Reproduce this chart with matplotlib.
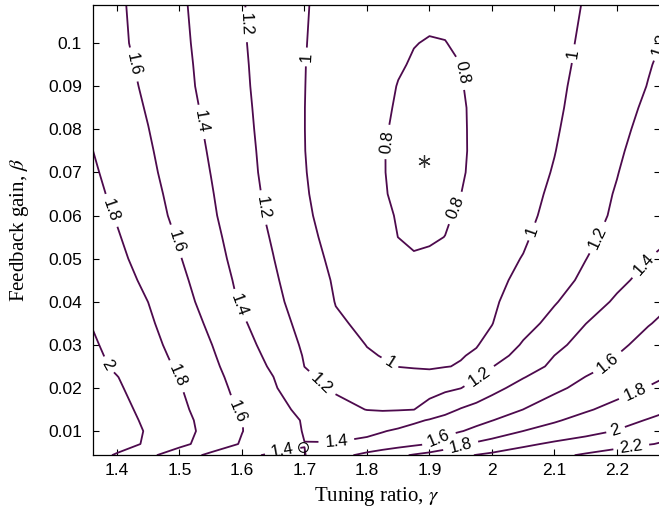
import matplotlib
matplotlib.use("Agg")
import matplotlib.pyplot as plt
import numpy as np

# Grid: tuning ratio (columns) and feedback gain (rows)
gamma = [1.35, 1.40, 1.45, 1.50, 1.55, 1.60, 1.65, 1.70, 1.75, 1.80, 1.825, 1.85,
         1.875, 1.90, 1.925, 1.95, 1.975, 2.00, 2.05, 2.10, 2.15, 2.20, 2.25, 2.30]
beta = [0.0044, 0.007, 0.01, 0.0125, 0.015, 0.02, 0.0225, 0.025, 0.0275, 0.03, 0.035,
        0.04, 0.045, 0.05, 0.055, 0.06, 0.065, 0.07, 0.075, 0.08, 0.085, 0.09, 0.095,
        0.10, 0.11]

# estimated response value at each (beta, gamma) node, one row per beta
response = [
    [2.116, 1.978, 1.840, 1.695, 1.560, 1.447, 1.370, 1.395, 1.530, 1.654, 1.709, 1.764, 1.818, 1.866, 1.914, 1.963, 2.007, 2.037, 2.098, 2.160, 2.222, 2.284, 2.346, 2.409],
    [2.209, 2.090, 1.970, 1.848, 1.715, 1.584, 1.492, 1.402, 1.410, 1.443, 1.483, 1.522, 1.562, 1.604, 1.687, 1.771, 1.829, 1.874, 1.963, 2.032, 2.085, 2.137, 2.190, 2.243],
    [2.209, 2.095, 1.982, 1.866, 1.741, 1.604, 1.493, 1.391, 1.341, 1.364, 1.391, 1.426, 1.468, 1.509, 1.550, 1.592, 1.642, 1.695, 1.801, 1.870, 1.940, 2.009, 2.080, 2.153],
    [2.184, 2.075, 1.967, 1.856, 1.734, 1.603, 1.482, 1.386, 1.345, 1.305, 1.283, 1.320, 1.367, 1.413, 1.459, 1.505, 1.550, 1.596, 1.688, 1.781, 1.861, 1.935, 2.011, 2.093],
    [2.164, 2.057, 1.950, 1.841, 1.710, 1.574, 1.459, 1.356, 1.267, 1.195, 1.188, 1.190, 1.198, 1.266, 1.342, 1.412, 1.459, 1.507, 1.601, 1.691, 1.780, 1.858, 1.934, 2.012],
    [2.126, 2.022, 1.918, 1.812, 1.674, 1.543, 1.423, 1.250, 1.172, 1.133, 1.113, 1.094, 1.103, 1.134, 1.165, 1.196, 1.270, 1.346, 1.466, 1.564, 1.651, 1.730, 1.808, 1.876],
    [2.108, 2.005, 1.902, 1.796, 1.657, 1.527, 1.402, 1.224, 1.158, 1.110, 1.086, 1.061, 1.037, 1.035, 1.086, 1.137, 1.189, 1.254, 1.392, 1.499, 1.604, 1.682, 1.760, 1.830],
    [2.067, 1.974, 1.880, 1.777, 1.638, 1.508, 1.373, 1.199, 1.127, 1.055, 1.020, 0.997, 0.992, 0.987, 0.994, 1.010, 1.102, 1.194, 1.317, 1.436, 1.544, 1.635, 1.710, 1.786],
    [2.054, 1.961, 1.867, 1.759, 1.622, 1.490, 1.348, 1.188, 1.102, 1.016, 0.994, 0.986, 0.977, 0.974, 0.983, 0.992, 1.017, 1.114, 1.272, 1.401, 1.502, 1.602, 1.672, 1.744],
    [2.040, 1.947, 1.853, 1.740, 1.606, 1.470, 1.321, 1.174, 1.079, 0.996, 0.984, 0.971, 0.958, 0.958, 0.970, 0.982, 0.993, 1.040, 1.221, 1.355, 1.466, 1.563, 1.660, 1.720],
    [2.013, 1.920, 1.826, 1.706, 1.568, 1.424, 1.284, 1.142, 1.019, 0.973, 0.956, 0.940, 0.924, 0.926, 0.943, 0.961, 0.978, 0.996, 1.125, 1.264, 1.398, 1.494, 1.590, 1.671],
    [1.985, 1.892, 1.799, 1.671, 1.529, 1.377, 1.247, 1.116, 0.995, 0.953, 0.932, 0.911, 0.889, 0.894, 0.916, 0.938, 0.959, 0.980, 1.065, 1.185, 1.311, 1.427, 1.520, 1.613],
    [1.958, 1.866, 1.765, 1.641, 1.500, 1.356, 1.226, 1.089, 0.982, 0.931, 0.905, 0.879, 0.853, 0.862, 0.888, 0.913, 0.939, 0.965, 1.031, 1.130, 1.237, 1.358, 1.457, 1.545],
    [1.930, 1.839, 1.731, 1.610, 1.470, 1.335, 1.204, 1.061, 0.966, 0.906, 0.876, 0.847, 0.806, 0.815, 0.859, 0.888, 0.917, 0.946, 1.006, 1.102, 1.197, 1.298, 1.399, 1.485],
    [1.905, 1.814, 1.703, 1.583, 1.449, 1.315, 1.183, 1.042, 0.948, 0.874, 0.837, 0.799, 0.789, 0.789, 0.801, 0.837, 0.873, 0.909, 0.981, 1.070, 1.165, 1.251, 1.375, 1.405],
    [1.879, 1.788, 1.675, 1.555, 1.427, 1.295, 1.161, 1.024, 0.936, 0.859, 0.821, 0.792, 0.773, 0.771, 0.789, 0.814, 0.850, 0.887, 0.961, 1.045, 1.142, 1.225, 1.350, 1.388],
    [1.862, 1.765, 1.656, 1.538, 1.413, 1.281, 1.149, 1.013, 0.927, 0.848, 0.809, 0.781, 0.757, 0.751, 0.775, 0.799, 0.836, 0.873, 0.947, 1.028, 1.122, 1.213, 1.325, 1.375],
    [1.845, 1.741, 1.636, 1.520, 1.398, 1.267, 1.137, 1.006, 0.924, 0.846, 0.806, 0.774, 0.744, 0.728, 0.759, 0.789, 0.824, 0.861, 0.934, 1.010, 1.103, 1.194, 1.300, 1.362],
    [1.824, 1.722, 1.620, 1.504, 1.384, 1.258, 1.131, 1.002, 0.923, 0.845, 0.806, 0.773, 0.742, 0.724, 0.755, 0.786, 0.820, 0.855, 0.926, 0.996, 1.086, 1.175, 1.276, 1.345],
    [1.803, 1.703, 1.603, 1.488, 1.370, 1.248, 1.125, 1.001, 0.924, 0.849, 0.811, 0.782, 0.755, 0.735, 0.761, 0.788, 0.818, 0.851, 0.918, 0.985, 1.069, 1.156, 1.252, 1.325],
    [1.784, 1.686, 1.586, 1.473, 1.357, 1.239, 1.121, 1.001, 0.927, 0.855, 0.818, 0.789, 0.768, 0.748, 0.769, 0.790, 0.817, 0.849, 0.912, 0.976, 1.054, 1.139, 1.228, 1.305],
    [1.764, 1.669, 1.569, 1.457, 1.343, 1.230, 1.117, 1.002, 0.931, 0.862, 0.828, 0.796, 0.779, 0.763, 0.778, 0.795, 0.822, 0.851, 0.911, 0.970, 1.042, 1.123, 1.205, 1.285],
    [1.747, 1.653, 1.555, 1.449, 1.337, 1.224, 1.114, 1.003, 0.937, 0.874, 0.842, 0.810, 0.791, 0.779, 0.787, 0.7995, 0.827, 0.855, 0.910, 0.965, 1.029, 1.108, 1.190, 1.265],
    [1.729, 1.637, 1.541, 1.440, 1.330, 1.217, 1.111, 1.005, 0.945, 0.889, 0.860, 0.831, 0.803, 0.794, 0.7975, 0.816, 0.841, 0.865, 0.914, 0.963, 1.020, 1.098, 1.170, 1.245],
    [1.706, 1.627, 1.532, 1.427, 1.318, 1.210, 1.110, 1.008, 0.960, 0.917, 0.896, 0.874, 0.853, 0.831, 0.833, 0.852, 0.870, 0.889, 0.927, 0.964, 1.005, 1.076, 1.130, 1.220],
]

levels = [0.8, 1.0, 1.2, 1.4, 1.6, 1.8, 2.0, 2.2]

# optimum (star) and reference point (circle)
optimum_gamma, optimum_beta = 1.891, 0.0727
ref_gamma, ref_beta = 1.698, 0.0063

# where the contour labels sit
label_spots = [
    (1.5968, 0.1042), (1.4224, 0.0949), (1.5344, 0.0817), (1.7008, 0.0968),
    (1.9504, 0.0931), (1.8304, 0.0771), (1.9424, 0.0617), (2.1376, 0.0974),
    (2.264, 0.1000), (1.3824, 0.0608), (1.6256, 0.0617), (1.4848, 0.0536),
    (1.5904, 0.0388), (1.3856, 0.0253), (1.4928, 0.0225), (1.5904, 0.0144),
    (1.6656, 0.0049), (1.7136, 0.0195), (1.8288, 0.0242), (1.7520, 0.00675),
    (1.9808, 0.0225), (2.0656, 0.0562), (2.1696, 0.0548), (2.2384, 0.0492),
    (1.9168, 0.0077), (1.9504, 0.0063), (2.1840, 0.0260), (2.2288, 0.0193),
    (2.1968, 0.0107), (2.2240, 0.0051),
]

plt.rcParams['mathtext.fontset'] = 'stix'

fig = plt.figure(figsize=(6.59, 5.15), dpi=100)
ax = fig.add_axes([0.1411, 0.1165, 0.8604, 0.8738])

G, B = np.meshgrid(gamma, beta)
Z = np.array(response)

cs = ax.contour(G, B, Z, levels=levels, colors='#4d0a4d', linewidths=1.3)
labels = ax.clabel(cs, fmt='%g', fontsize=12, inline=True, inline_spacing=4,
                   manual=label_spots)
for t in labels:
    t.set_family('Liberation Sans')
    t.set_color('black')

ax.plot(optimum_gamma, optimum_beta, marker=(6, 2, 0), ms=9, color='0.2', mew=0.9)
ax.plot(ref_gamma, ref_beta, marker='o', ms=7, mfc='none', mec='black', mew=0.8)

ax.set_xlim(1.3616, 2.2688)
ax.set_ylim(0.00445, 0.10884)
ax.set_xticks([1.4, 1.5, 1.6, 1.7, 1.8, 1.9, 2.0, 2.1, 2.2])
ax.set_xticklabels(['1.4', '1.5', '1.6', '1.7', '1.8', '1.9', '2', '2.1', '2.2'])
ax.set_yticks([0.01, 0.02, 0.03, 0.04, 0.05, 0.06, 0.07, 0.08, 0.09, 0.1])
ax.set_yticklabels(['0.01', '0.02', '0.03', '0.04', '0.05', '0.06', '0.07', '0.08', '0.09', '0.1'])
ax.tick_params(direction='in', top=True, right=True, length=4, width=0.8, labelsize=12.5)
ax.tick_params(axis='x', pad=6)
ax.tick_params(axis='y', pad=8)
for lab in ax.get_xticklabels() + ax.get_yticklabels():
    lab.set_family('Liberation Sans')
for s in ax.spines.values():
    s.set_linewidth(0.9)

ax.set_xlabel(r'Tuning ratio, $\gamma$', family='Liberation Serif', fontsize=15, labelpad=5)
ax.set_ylabel(r'Feedback gain, $\beta$', family='Liberation Serif', fontsize=15, labelpad=12)

fig.savefig('out.png', dpi=100)
